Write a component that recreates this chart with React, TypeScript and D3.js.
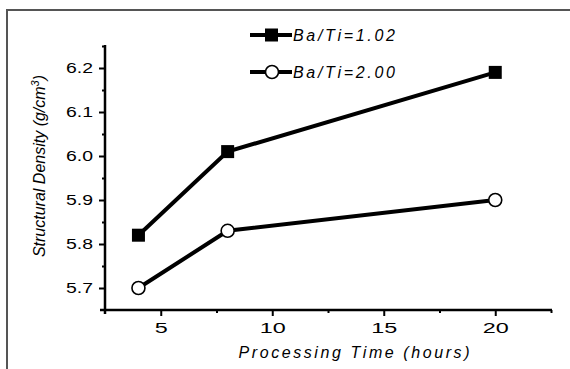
import React, { useEffect, useRef } from 'react';
import * as d3 from 'd3';

// processing time (hours)
const hours = [4, 8, 20];
// structural density (g/cm3)
const densityBa102 = [5.82, 6.01, 6.19];
const densityBa200 = [5.70, 5.83, 5.90];

const xMajorTicks = [5, 10, 15, 20];
const xMinorTicks = [7.5, 12.5, 17.5, 22.5];
const yMajorTicks = [5.7, 5.8, 5.9, 6.0, 6.1, 6.2];
const yMinorTicks = [5.75, 5.85, 5.95, 6.05, 6.15, 6.25];

const seriesLabels = ['Ba/Ti=1.02', 'Ba/Ti=2.00'];

const App = () => {
    const svgRef = useRef<SVGSVGElement>(null);

    useEffect(() => {
        const width = 570;
        const height = 369;
        const left = 105, right = 551, top = 46, bottom = 310;

        const svg = d3.select(svgRef.current);
        svg.selectAll('*').remove();
        svg.attr('width', width).attr('height', height);

        // outer frame (only top + left are visible in the scan)
        svg.append('path')
            .attr('d', `M7,369 L7,10 L570,10`)
            .attr('fill', 'none')
            .attr('stroke', '#555')
            .attr('stroke-width', 2);

        const x = d3.scaleLinear().domain([2.5, 22.5]).range([left, right]);
        const y = d3.scaleLinear().domain([5.65, 6.25]).range([bottom, top]);

        const font = 'Arial, "Liberation Sans", sans-serif';

        // x axis, major ticks (scan font is wide, so stretch glyphs)
        const xAxis = svg.append('g')
            .attr('transform', `translate(0,${bottom})`)
            .call(d3.axisBottom(x).tickValues(xMajorTicks).tickFormat(d3.format('d'))
                .tickSize(6).tickSizeOuter(0).tickPadding(7));
        xAxis.select('.domain').remove();
        xAxis.selectAll('line').attr('stroke', '#000').attr('stroke-width', 2);
        xAxis.selectAll('text')
            .attr('font-family', font).attr('font-size', 14).attr('fill', '#000')
            .attr('lengthAdjust', 'spacingAndGlyphs')
            .attr('textLength', function () { return (this as SVGTextElement).textContent!.length * 13; });

        svg.append('g')
            .attr('transform', `translate(0,${bottom})`)
            .call(d3.axisBottom(x).tickValues(xMinorTicks).tickFormat(() => '').tickSize(3).tickSizeOuter(0))
            .call(g => g.select('.domain').remove())
            .selectAll('line').attr('stroke', '#000').attr('stroke-width', 2);

        // y axis, major ticks
        const yAxis = svg.append('g')
            .attr('transform', `translate(${left},0)`)
            .call(d3.axisLeft(y).tickValues(yMajorTicks).tickFormat(d3.format('.1f'))
                .tickSize(6).tickSizeOuter(0).tickPadding(6));
        yAxis.select('.domain').remove();
        yAxis.selectAll('line').attr('stroke', '#000').attr('stroke-width', 2);
        yAxis.selectAll('text')
            .attr('font-family', font).attr('font-size', 14).attr('fill', '#000')
            .attr('lengthAdjust', 'spacingAndGlyphs')
            .attr('textLength', 27);

        svg.append('g')
            .attr('transform', `translate(${left},0)`)
            .call(d3.axisLeft(y).tickValues(yMinorTicks).tickFormat(() => '').tickSize(3).tickSizeOuter(0))
            .call(g => g.select('.domain').remove())
            .selectAll('line').attr('stroke', '#000').attr('stroke-width', 2);

        // axis lines
        svg.append('line')
            .attr('x1', left - 5).attr('x2', right + 1)
            .attr('y1', bottom).attr('y2', bottom)
            .attr('stroke', '#000').attr('stroke-width', 2.5);
        svg.append('line')
            .attr('x1', left).attr('x2', left)
            .attr('y1', top - 1).attr('y2', bottom + 4)
            .attr('stroke', '#000').attr('stroke-width', 2.5);

        // axis titles
        svg.append('text')
            .attr('x', 354).attr('y', 358)
            .attr('text-anchor', 'middle')
            .attr('font-family', font).attr('font-size', 16)
            .attr('font-style', 'italic')
            .attr('lengthAdjust', 'spacing').attr('textLength', 231)
            .text('Processing Time (hours)');

        const yTitle = svg.append('text')
            .attr('transform', `translate(45,166) rotate(-90)`)
            .attr('text-anchor', 'middle')
            .attr('font-family', font).attr('font-size', 16)
            .attr('font-style', 'italic');
        yTitle.append('tspan').text('Structural Density (g/cm');
        yTitle.append('tspan').attr('dy', -6).attr('font-size', 11).text('3');
        yTitle.append('tspan').attr('dy', 6).text(')');

        const line = d3.line<[number, number]>().x(d => x(d[0])).y(d => y(d[1]));
        const pts1 = hours.map((h, i) => [h, densityBa102[i]] as [number, number]);
        const pts2 = hours.map((h, i) => [h, densityBa200[i]] as [number, number]);

        [pts1, pts2].forEach(pts => {
            svg.append('path')
                .attr('d', line(pts))
                .attr('fill', 'none')
                .attr('stroke', '#000')
                .attr('stroke-width', 4);
        });

        svg.selectAll('rect.m1')
            .data(pts1)
            .enter()
            .append('rect')
            .attr('x', d => x(d[0]) - 6.5)
            .attr('y', d => y(d[1]) - 6.5)
            .attr('width', 13).attr('height', 13)
            .attr('fill', '#000');

        svg.selectAll('circle.m2')
            .data(pts2)
            .enter()
            .append('circle')
            .attr('cx', d => x(d[0]))
            .attr('cy', d => y(d[1]))
            .attr('r', 6.5)
            .attr('fill', '#fff')
            .attr('stroke', '#000')
            .attr('stroke-width', 1.6);

        // legend
        const legendY = [35, 72];
        seriesLabels.forEach((label, i) => {
            const g = svg.append('g').attr('transform', `translate(250,${legendY[i]})`);
            g.append('line').attr('x1', 0).attr('x2', 42).attr('y1', 0).attr('y2', 0)
                .attr('stroke', '#000').attr('stroke-width', 4);
            if (i === 0) {
                g.append('rect').attr('x', 15).attr('y', -6.5).attr('width', 13).attr('height', 13).attr('fill', '#000');
            } else {
                g.append('circle').attr('cx', 22).attr('cy', 0).attr('r', 6.5)
                    .attr('fill', '#fff').attr('stroke', '#000').attr('stroke-width', 1.6);
            }
            g.append('text')
                .attr('x', 43).attr('y', 6)
                .attr('font-family', font).attr('font-size', 16)
                .attr('font-style', 'italic')
                .attr('lengthAdjust', 'spacing').attr('textLength', 102)
                .text(label);
        });
    }, []);

    return (
        <svg ref={svgRef} style={{ position: 'absolute', left: 0, top: 0, background: '#fff' }}></svg>
    );
};

export default App;
